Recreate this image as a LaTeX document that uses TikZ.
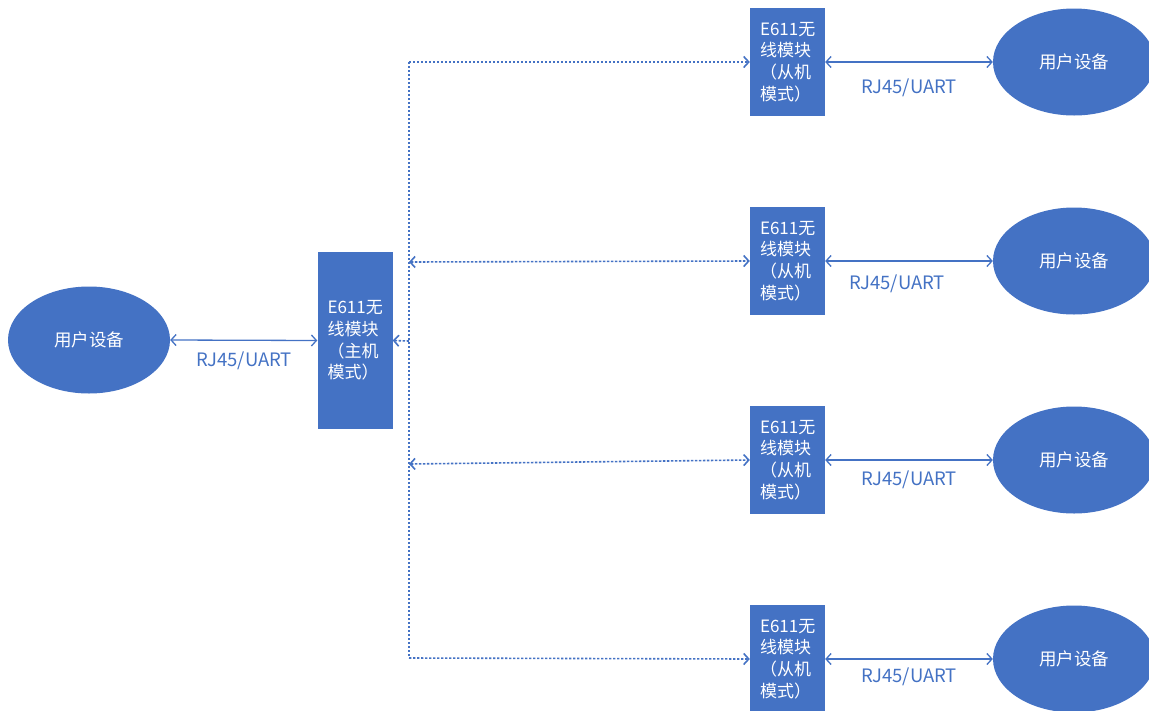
\documentclass[tikz,border=0pt]{standalone}
\usepackage{fontspec}
\setmainfont{Noto Sans CJK SC}
\usetikzlibrary{arrows.meta,shapes.geometric}
\definecolor{blu}{HTML}{4472C4}
\begin{document}
\begin{tikzpicture}[x=1pt,y=-1pt,
  module/.style={rectangle, fill=blu, text=white, minimum width=75pt, inner sep=0pt,
    font=\fontsize{17}{21.7}\selectfont, align=left, text width=55pt},
  master/.style={module, minimum height=177pt},
  slave/.style={module, minimum height=108pt},
  user/.style={ellipse, fill=blu, text=white, minimum width=162pt, minimum height=107pt,
    inner sep=0pt, font=\fontsize{17.5}{20}\selectfont},
  wire/.style={draw=blu, line width=1.3pt, {Straight Barb[length=5pt,width=11pt]}-{Straight Barb[length=5pt,width=11pt]}},
  radio/.style={draw=blu, line width=1.6pt, dash pattern=on 2.4pt off 1.6pt},
  tip/.style={-{Straight Barb[length=5pt,width=11pt]}},
  lbl/.style={text=blu, font=\fontsize{18.5}{20}\selectfont, inner sep=0pt}
]
\useasboundingbox (0,0) rectangle (1149,710);
\clip (0,0) rectangle (1149,710);

% left side
\node[user] (u0) at (89,340) {用户设备};
\node[master] (m) at (355,340.5) {E611无\\线模块\\（主机\\模式）};
\draw[wire] (u0.east) -- (m.west);
\node[lbl] (l0) at (244,361) {RJ45/UART};

% slaves
\foreach \i/\y/\lx/\ly in {1/62/909/88, 2/261/897/284, 3/460/909/480, 4/659/909/677} {
  \node[slave] (s\i) at (787.5,\y) {\raisebox{-2pt}{\parbox{55pt}{E611无\\线模块\\（从机\\模式）}}};
  \node[user] (u\i) at (1074,\y) {用户设备};
  \draw[wire] (s\i.east) -- (u\i.west);
  \node[lbl] (l\i) at (\lx,\ly) {RJ45/UART};
}

% dotted radio links
\coordinate (j1) at (409,62);
\coordinate (j2) at (409,262);
\coordinate (jm) at (409,341);
\coordinate (j3) at (409,464);
\coordinate (j4) at (409,658);
\draw[radio] (j1) -- (j4);
\draw[radio, tip] (j1) -- (s1.west);
\draw[radio, tip] (j4) -- (s4.west);
\draw[radio, tip] (jm) -- (m.east);
\draw[radio, {Straight Barb[length=5pt,width=11pt]}-{Straight Barb[length=5pt,width=11pt]}] (j2) -- (s2.west);
\draw[radio, {Straight Barb[length=5pt,width=11pt]}-{Straight Barb[length=5pt,width=11pt]}] (j3) -- (s3.west);
\end{tikzpicture}
\end{document}
